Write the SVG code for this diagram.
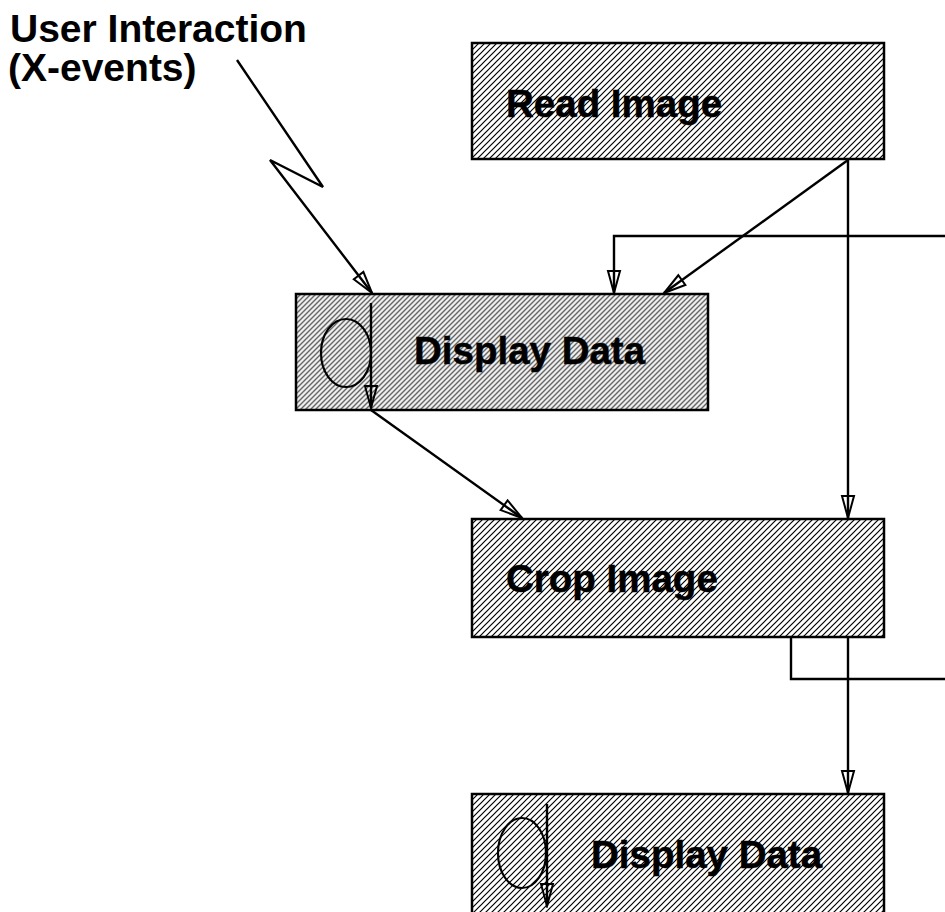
<svg xmlns="http://www.w3.org/2000/svg" width="945" height="912" viewBox="0 0 945 912">
<style>
.box{stroke:#000;stroke-width:2.5}
.lbl{font-family:"Liberation Sans",Arial,sans-serif;font-weight:bold;font-size:38.5px;fill:#000;stroke:#000;stroke-width:0.5}
.title{font-family:"Liberation Sans",Arial,sans-serif;font-weight:bold;font-size:39px;fill:#000}
.c{fill:none;stroke:#000;stroke-width:2.4}
</style>
<defs>
<pattern id="hb" width="6" height="6" patternUnits="userSpaceOnUse">
<rect width="6" height="6" fill="#fff"/>
<path d="M-1,1 L1,-1 M0,6 L6,0 M5,7 L7,5" stroke="#000" stroke-width="1.2"/>
</pattern>
<pattern id="hg" width="5" height="5" patternUnits="userSpaceOnUse">
<rect width="5" height="5" fill="#eee"/>
<path d="M-1,1 L1,-1 M0,5 L5,0 M4,6 L6,4" stroke="#666" stroke-width="1.4"/>
</pattern>
<marker id="ar" viewBox="-24 -8 26 16" refX="0" refY="0" markerWidth="26" markerHeight="16" markerUnits="userSpaceOnUse" orient="auto">
<path d="M0,0 L-22,-6 L-22,6 Z" fill="none" stroke="#000" stroke-width="2"/>
</marker>
</defs>

<g id="user-interaction">
<text class="title" x="10" y="42">User Interaction</text>
<text class="title" x="8" y="81">(X-events)</text>
</g>

<g id="read-image">
<rect class="box" x="472" y="43" width="412" height="116" fill="url(#hb)"/>
<text class="lbl" x="506" y="117">Read Image</text>
</g>

<g id="display-data-1">
<rect class="box" x="296" y="294" width="412" height="116" fill="url(#hg)"/>
<ellipse cx="346" cy="353" rx="25" ry="34" fill="none" stroke="#000" stroke-width="2.2"/>
<line x1="371" y1="303" x2="371" y2="408" class="c" marker-end="url(#ar)"/>
<text class="lbl" x="414" y="364">Display Data</text>
</g>

<g id="crop-image">
<rect class="box" x="472" y="519" width="412" height="118" fill="url(#hb)"/>
<text class="lbl" x="506" y="592">Crop Image</text>
</g>

<g id="display-data-2">
<rect class="box" x="472" y="794" width="412" height="130" fill="url(#hb)"/>
<ellipse cx="522" cy="853" rx="24" ry="35" fill="none" stroke="#000" stroke-width="2.2"/>
<line x1="547" y1="804" x2="547" y2="906" class="c" marker-end="url(#ar)"/>
<text class="lbl" x="591" y="868">Display Data</text>
</g>

<g id="connectors">
<polyline class="c" points="237,60 323,187 270,160 372,293" marker-end="url(#ar)"/>
<line class="c" x1="848" y1="159" x2="848" y2="518" marker-end="url(#ar)"/>
<line class="c" x1="848" y1="160" x2="664" y2="293" marker-end="url(#ar)"/>
<polyline class="c" points="945,236 614,236 614,293" marker-end="url(#ar)"/>
<line class="c" x1="371" y1="410" x2="522" y2="518" marker-end="url(#ar)"/>
<line class="c" x1="848" y1="637" x2="848" y2="793" marker-end="url(#ar)"/>
<polyline class="c" points="791,637 791,679 945,679"/>
</g>
</svg>
